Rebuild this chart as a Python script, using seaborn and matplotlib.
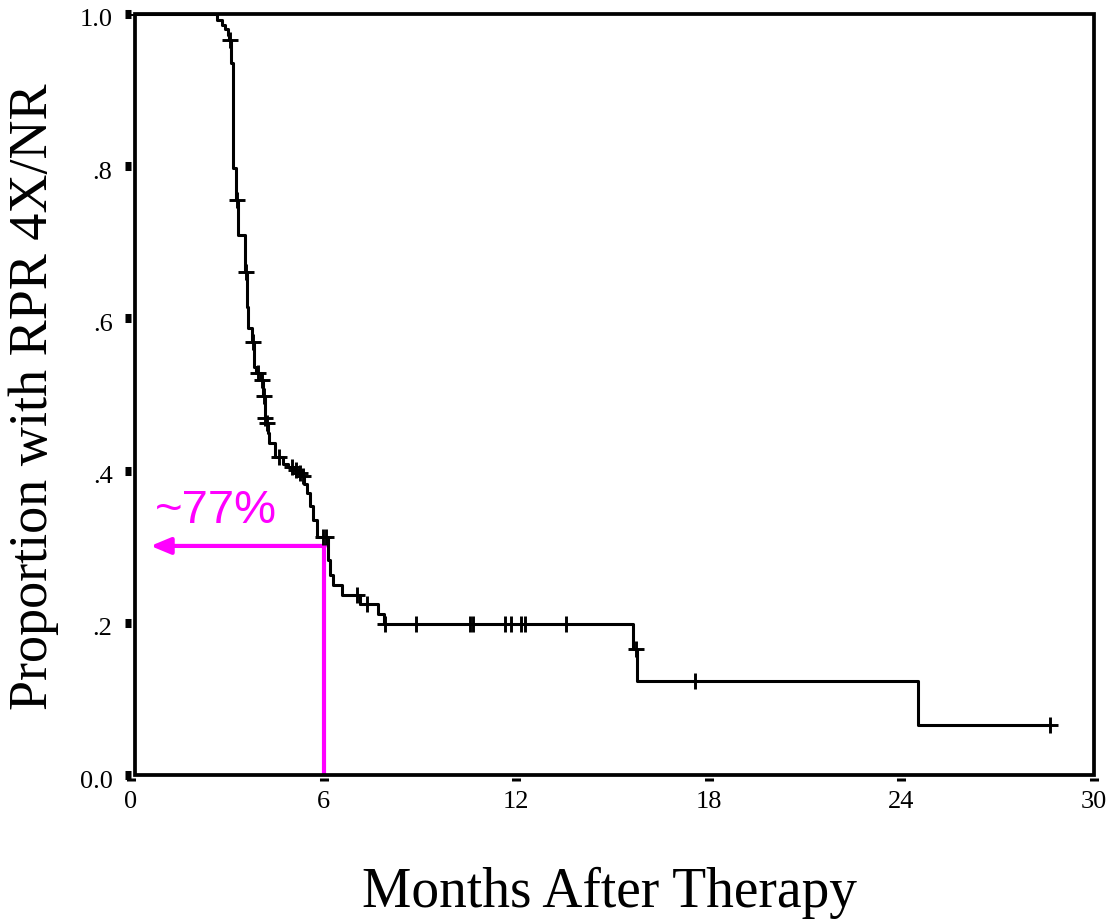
import numpy as np
import matplotlib
matplotlib.use("Agg")
import matplotlib.pyplot as plt
import matplotlib.transforms as mtransforms
from matplotlib.patches import Rectangle
import seaborn as sns

# ---- data ----
drop_times = [2.69, 2.83, 2.93, 3.03, 3.06, 3.12, 3.17, 3.27, 3.33, 3.55, 3.61, 3.65,
              3.76, 3.84, 3.90, 4.05, 4.11, 4.17, 4.21, 4.26, 4.30, 4.50, 4.74, 4.90,
              5.10, 5.20, 5.30, 5.40, 5.48, 5.58, 5.68, 5.79, 6.13, 6.20, 6.30, 6.56,
              7.13, 7.70, 7.88, 15.65, 15.75, 24.52]
drop_surv = [0.992, 0.986, 0.980, 0.972, 0.966, 0.935, 0.797, 0.756, 0.710, 0.661, 0.615, 0.587,
             0.569, 0.536, 0.528, 0.519, 0.498, 0.469, 0.462, 0.449, 0.436, 0.418, 0.409, 0.405,
             0.401, 0.397, 0.393, 0.383, 0.370, 0.353, 0.335, 0.313, 0.283, 0.263, 0.250, 0.237,
             0.225, 0.212, 0.199, 0.166, 0.1235, 0.0657]
censor_times = [3.09, 3.30, 3.58, 3.80, 3.95, 4.08, 4.13, 4.19, 4.23, 4.60, 5.00, 5.15,
                5.25, 5.36, 5.99, 6.08, 7.03, 7.36, 7.92, 8.88, 10.56, 10.65, 11.65, 11.84,
                12.15, 12.27, 13.55, 15.72, 17.57, 28.63]
end_time = 28.63

x_ticks = [0, 6, 12, 18, 24, 30]
x_tick_labels = ["0", "6", "12", "18", "24", "30"]
y_ticks = [0.0, 0.2, 0.4, 0.6, 0.8, 1.0]
y_tick_labels = ["0.0", ".2", ".4", ".6", ".8", "1.0"]

ref_time = 6.0
ref_surv = 0.301
annot_text = "~77%"
x_label = "Months After Therapy"
y_label = "Proportion with RPR 4X/NR"

# ---- build step curve ----
curve_t = np.array([0.0] + drop_times + [end_time])
curve_s = np.array([1.0] + drop_surv + [drop_surv[-1]])
dt = np.array(drop_times)
ds = np.array(drop_surv)
idx = np.searchsorted(dt, np.array(censor_times), side="right") - 1
censor_s = np.where(idx >= 0, ds[np.clip(idx, 0, None)], 1.0)

sns.set_style("white")
plt.rcParams["font.family"] = ["Liberation Serif", "DejaVu Serif"]
plt.rcParams["text.color"] = "black"
plt.rcParams["axes.labelcolor"] = "black"
plt.rcParams["xtick.color"] = "black"
plt.rcParams["ytick.color"] = "black"

W, H = 1113, 919
fig = plt.figure(figsize=(W / 100, H / 100), dpi=100)
ax = fig.add_axes([131 / W, 1 - 775 / H, (1094 - 131) / W, (775 - 14) / H])

sns.lineplot(x=curve_t, y=curve_s, ax=ax, drawstyle="steps-post", estimator=None,
             sort=False, color="black", linewidth=2.2)
sns.scatterplot(x=censor_times, y=censor_s, ax=ax, marker="+", s=120,
                color="black", linewidth=2.1, zorder=5)

ax.set_xlim(0, 30)
ax.set_ylim(0, 1)

# frame (drawn slightly inside the tick positions, as in the reference)
for sp in ax.spines.values():
    sp.set_visible(False)
ax.spines["bottom"].set_position(("outward", 2.5))
frame = Rectangle((0.12, 0.0), 30.0 - 0.12, 1.0, fill=False, edgecolor="black",
                  linewidth=2.7, clip_on=False, zorder=6)
ax.add_patch(frame)

ax.set_xticks(x_ticks)
ax.set_xticklabels(x_tick_labels)
ax.set_yticks(y_ticks)
ax.set_yticklabels(y_tick_labels)
ax.tick_params(axis="x", direction="out", length=2.3, width=6.5, colors="black",
               labelsize=19, pad=7, bottom=True)
ax.tick_params(axis="y", direction="out", length=4.3, width=6.5, colors="black",
               labelsize=19, pad=9, left=True)
ax.grid(False)
shift = mtransforms.ScaledTranslation(0, -4 / 100, fig.dpi_scale_trans)
for lbl in ax.get_yticklabels():
    lbl.set_transform(lbl.get_transform() + shift)

# magenta annotation
mag = "#FF00FF"
ax.plot([ref_time, ref_time], [0.0, ref_surv], color=mag, linewidth=3.0,
        solid_capstyle="butt", zorder=4)
ax.annotate("", xy=(0.61, ref_surv), xytext=(ref_time + 0.04, ref_surv),
            arrowprops=dict(arrowstyle="-|>,head_length=0.6,head_width=0.25",
                            color=mag, lw=3.0, shrinkA=0, shrinkB=0,
                            mutation_scale=20),
            zorder=4)
ax.text(0.75, 0.331, annot_text, color=mag, fontsize=34,
        family=["Liberation Sans", "DejaVu Sans"], ha="left", va="baseline")

# axis labels
ax.set_xlabel(x_label, fontsize=40, color="black")
ax.xaxis.set_label_coords(0.497, -0.1735)
ax.xaxis.label.set_va("baseline")
ax.set_ylabel(y_label, fontsize=39, color="black")
ax.yaxis.set_label_coords(-0.1012, 0.4974)
ax.yaxis.label.set_va("center")
ax.yaxis.label.set_ha("center")

fig.savefig("out.png", dpi=100, facecolor="white")
